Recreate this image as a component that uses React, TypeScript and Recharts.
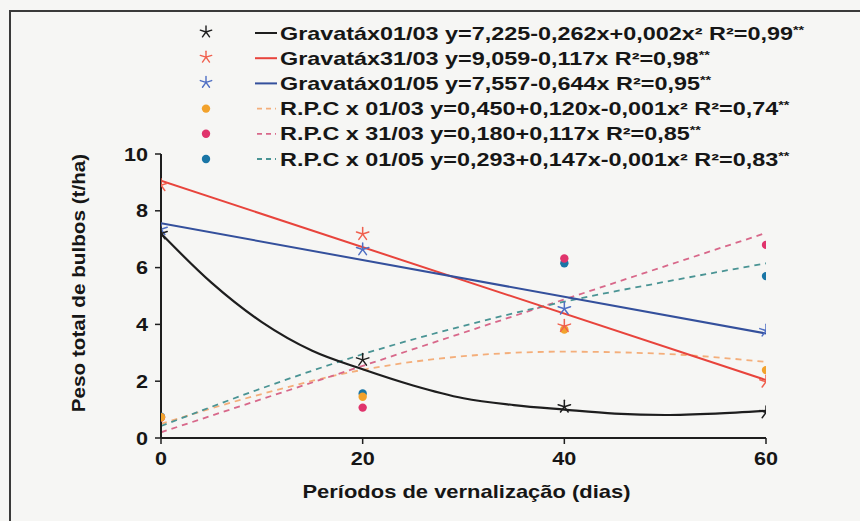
import React from 'react';
import { ComposedChart, Line, Scatter, XAxis, YAxis, Label } from 'recharts';

// ---- observed points (days of vernalization -> t/ha) ----
const days = [0, 20, 40, 60];
const gravata0103 = [7.2, 2.75, 1.1, 0.9];
const gravata3103 = [8.9, 7.18, 3.94, 1.98];
const gravata0105 = [7.35, 6.64, 4.55, 3.78];
const rpc0103 = [0.73, 1.45, 3.82, 2.39];
const rpc3103 = [0.72, 1.07, 6.32, 6.8];
const rpc0105 = [0.75, 1.57, 6.15, 5.7];

// ---- fitted curves ----
const fitDaysDense = [0, 5, 10, 15, 20, 25, 30, 35, 40, 45, 50, 55, 60];
const fitGravata0103 = [7.2, 5.47, 4.08, 3.07, 2.42, 1.85, 1.4, 1.16, 1.0, 0.86, 0.81, 0.86, 0.96];
const fitDaysLinear = [0, 60];
const fitGravata3103 = [9.06, 2.04];
const fitGravata0105 = [7.56, 3.68];
const fitRpc3103 = [0.2, 7.22];
const fitDaysQuad = [0, 10, 20, 30, 40, 50, 60];
const fitRpc0103 = [0.5, 1.55, 2.4, 2.88, 3.04, 2.96, 2.68];
const fitRpc0105 = [0.42, 1.75, 2.95, 3.95, 4.8, 5.5, 6.15];

const xTicks = [0, 20, 40, 60];
const yTicks = [0, 2, 4, 6, 8, 10];

const legendNames = ['Gravatáx01/03', 'Gravatáx31/03', 'Gravatáx01/05', 'R.P.C x 01/03', 'R.P.C x 31/03', 'R.P.C x 01/05'];
const legendEquations = [
  'y=7,225-0,262x+0,002x²',
  'y=9,059-0,117x',
  'y=7,557-0,644x',
  'y=0,450+0,120x-0,001x²',
  'y=0,180+0,117x',
  'y=0,293+0,147x-0,001x²',
];
const legendR2 = ['R²=0,99', 'R²=0,98', 'R²=0,95', 'R²=0,74', 'R²=0,85', 'R²=0,83'];

const pts = (xs: number[], ys: number[]) => xs.map((x, i) => ({ x, y: ys[i] }));

const FONT = '"Liberation Sans", Arial, sans-serif';
const TXT = '#161616';

const C = {
  black: '#1e1e1e',
  red: '#e8443c',
  redStar: '#f0604e',
  blue: '#34509c',
  blueStar: '#4f6fc4',
  orange: '#f2a22c',
  pink: '#e0346c',
  teal: '#1a76a6',
  orangeDash: '#f4ae7a',
  pinkDash: '#d8688a',
  tealDash: '#4a9494',
};

const StarMark = ({ cx, cy, color, r = 6.5, w = 1.5 }: any) => {
  if (cx == null || cy == null) return null;
  const angles = [-90, -18, 54, 126, 198];
  return (
    <g>
      {angles.map((a) => {
        const rad = (a * Math.PI) / 180;
        return (
          <line key={a} x1={cx} y1={cy} x2={cx + r * Math.cos(rad)} y2={cy + r * Math.sin(rad)} stroke={color} strokeWidth={w} strokeLinecap="round" />
        );
      })}
    </g>
  );
};

const DotMark = ({ cx, cy, color, r = 4.2 }: any) => {
  if (cx == null || cy == null) return null;
  return <circle cx={cx} cy={cy} r={r} fill={color} />;
};

const SX = 1.2;

const XTick = ({ x, y, payload }: any) => (
  <text transform={`translate(${x},${y + 19}) scale(${SX},1)`} textAnchor="middle" fontFamily={FONT} fontWeight="bold" fontSize={18} fill={TXT}>
    {payload.value}
  </text>
);

const YTick = ({ x, y, payload }: any) => (
  <text transform={`translate(${x - 5},${y + 6.5}) scale(${SX},1)`} textAnchor="end" fontFamily={FONT} fontWeight="bold" fontSize={18} fill={TXT}>
    {payload.value}
  </text>
);

const XTitle = ({ viewBox }: any) => {
  const cx = viewBox.x + viewBox.width / 2 + 3;
  return (
    <text transform={`translate(${cx},${viewBox.y + 60}) scale(1.22,1)`} textAnchor="middle" fontFamily={FONT} fontWeight="bold" fontSize={18} fill={TXT}>
      Períodos de vernalização (dias)
    </text>
  );
};

const YTitle = ({ viewBox }: any) => {
  const cy = viewBox.y + viewBox.height / 2 - 13;
  return (
    <text transform={`translate(${viewBox.x + 18},${cy}) rotate(-90) scale(1.15,1)`} textAnchor="middle" dominantBaseline="central" fontFamily={FONT} fontWeight="bold" fontSize={18} fill={TXT}>
      Peso total de bulbos (t/ha)
    </text>
  );
};

const legendMarks = [
  { kind: 'star', color: C.black, line: C.black, dashed: false },
  { kind: 'star', color: C.redStar, line: C.red, dashed: false },
  { kind: 'star', color: C.blueStar, line: C.blue, dashed: false },
  { kind: 'dot', color: C.orange, line: C.orangeDash, dashed: true },
  { kind: 'dot', color: C.pink, line: C.pinkDash, dashed: true },
  { kind: 'dot', color: C.teal, line: C.tealDash, dashed: true },
];

const LegendOverlay = () => (
  <svg width={860} height={200} style={{ position: 'absolute', left: 0, top: 0, pointerEvents: 'none' }}>
    {legendMarks.map((m, i) => {
      const cy = 33 + i * 25.2;
      return (
        <g key={i}>
          {m.kind === 'star' ? <StarMark cx={206} cy={cy - 1} color={m.color} r={6} w={1.4} /> : <DotMark cx={206} cy={cy} color={m.color} r={4.2} />}
          {m.dashed ? (
            <line x1={257} y1={cy} x2={276} y2={cy} stroke={m.line} strokeWidth={1.8} strokeDasharray="5 4" />
          ) : (
            <line x1={255} y1={cy} x2={277} y2={cy} stroke={m.line} strokeWidth={2} />
          )}
          <text transform={`translate(280,${cy + 6.5}) scale(1.3,1)`} fontFamily={FONT} fontWeight="bold" fontSize={18} fill={TXT}>
            {legendNames[i]} {legendEquations[i]} {legendR2[i]}
            <tspan fontSize={11} dy={-6}>**</tspan>
          </text>
        </g>
      );
    })}
  </svg>
);

export default function App() {
  return (
    <div style={{ position: 'absolute', left: 0, top: 0, width: 860, height: 521, background: '#f6f6f4', overflow: 'hidden' }}>
      <div style={{ position: 'absolute', left: 9, top: 10, width: 900, height: 600, borderTop: '2px solid #3a3a3a', borderLeft: '2px solid #3a3a3a' }} />
      <ComposedChart width={860} height={521} margin={{ top: 154, right: 94, bottom: 53, left: 61 }} style={{ position: 'absolute', left: 0, top: 0 }}>
        <XAxis
          dataKey="x"
          type="number"
          domain={[0, 60]}
          ticks={xTicks}
          height={30}
          axisLine={{ stroke: '#1e1e1e', strokeWidth: 2 }}
          tickLine={{ stroke: '#1e1e1e', strokeWidth: 1.5 }}
          tickSize={6}
          tick={<XTick />}
          allowDataOverflow
        >
          <Label content={<XTitle />} />
        </XAxis>
        <YAxis
          dataKey="y"
          type="number"
          domain={[0, 10]}
          ticks={yTicks}
          width={100}
          axisLine={{ stroke: '#1e1e1e', strokeWidth: 2 }}
          tickLine={{ stroke: '#1e1e1e', strokeWidth: 1.5 }}
          tickSize={6}
          tick={<YTick />}
          allowDataOverflow
        >
          <Label content={<YTitle />} />
        </YAxis>

        <Line data={pts(fitDaysQuad, fitRpc0103)} dataKey="y" type="monotone" stroke={C.orangeDash} strokeWidth={1.8} strokeDasharray="6 5" dot={false} activeDot={false} isAnimationActive={false} />
        <Line data={pts(fitDaysLinear, fitRpc3103)} dataKey="y" type="linear" stroke={C.pinkDash} strokeWidth={1.8} strokeDasharray="6 5" dot={false} activeDot={false} isAnimationActive={false} />
        <Line data={pts(fitDaysQuad, fitRpc0105)} dataKey="y" type="monotone" stroke={C.tealDash} strokeWidth={1.8} strokeDasharray="6 5" dot={false} activeDot={false} isAnimationActive={false} />
        <Line data={pts(fitDaysDense, fitGravata0103)} dataKey="y" type="monotone" stroke={C.black} strokeWidth={2.2} dot={false} activeDot={false} isAnimationActive={false} />
        <Line data={pts(fitDaysLinear, fitGravata3103)} dataKey="y" type="linear" stroke={C.red} strokeWidth={2} dot={false} activeDot={false} isAnimationActive={false} />
        <Line data={pts(fitDaysLinear, fitGravata0105)} dataKey="y" type="linear" stroke={C.blue} strokeWidth={2} dot={false} activeDot={false} isAnimationActive={false} />

        <Scatter data={pts(days, rpc0105)} dataKey="y" isAnimationActive={false} shape={(p: any) => <DotMark cx={p.cx} cy={p.cy} color={C.teal} />} />
        <Scatter data={pts(days, rpc3103)} dataKey="y" isAnimationActive={false} shape={(p: any) => <DotMark cx={p.cx} cy={p.cy} color={C.pink} />} />
        <Scatter data={pts(days, rpc0103)} dataKey="y" isAnimationActive={false} shape={(p: any) => <DotMark cx={p.cx} cy={p.cy} color={C.orange} />} />
        <Scatter data={pts(days, gravata0105)} dataKey="y" isAnimationActive={false} shape={(p: any) => <StarMark cx={p.cx} cy={p.cy} color={C.blueStar} />} />
        <Scatter data={pts(days, gravata3103)} dataKey="y" isAnimationActive={false} shape={(p: any) => <StarMark cx={p.cx} cy={p.cy} color={C.redStar} />} />
        <Scatter data={pts(days, gravata0103)} dataKey="y" isAnimationActive={false} shape={(p: any) => <StarMark cx={p.cx} cy={p.cy} color={C.black} />} />
      </ComposedChart>
      <LegendOverlay />
    </div>
  );
}
